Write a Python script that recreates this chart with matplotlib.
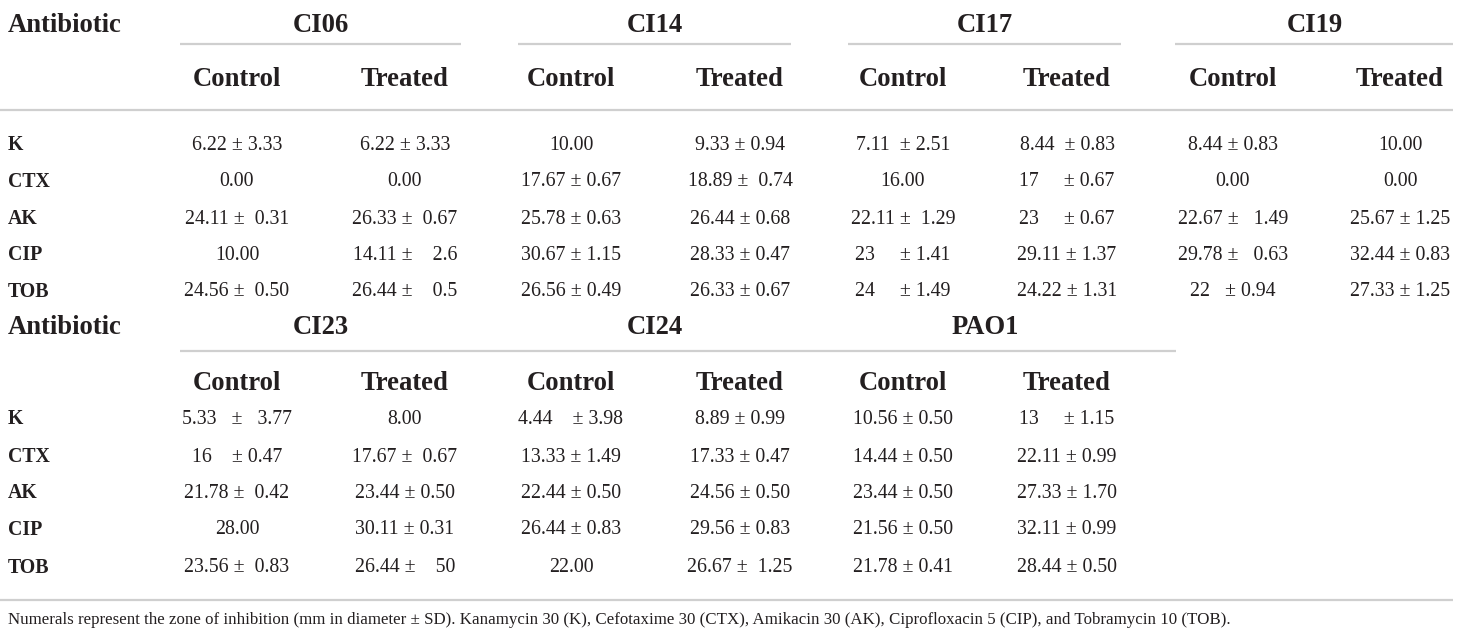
import matplotlib
matplotlib.use("Agg")
import matplotlib.pyplot as plt

plt.rcParams['font.family'] = ['Liberation Serif', 'DejaVu Serif']

antibiotics = ["K", "CTX", "AK", "CIP", "TOB"]
conditions = ["Control", "Treated"]

groups_top = ["CI06", "CI14", "CI17", "CI19"]
groups_bottom = ["CI23", "CI24", "PAO1"]

CI06_control = ["6.22 ± 3.33", "0.00", "24.11 ±  0.31", "10.00", "24.56 ±  0.50"]
CI06_treated = ["6.22 ± 3.33", "0.00", "26.33 ±  0.67", "14.11 ±    2.6", "26.44 ±    0.5"]
CI14_control = ["10.00", "17.67 ± 0.67", "25.78 ± 0.63", "30.67 ± 1.15", "26.56 ± 0.49"]
CI14_treated = ["9.33 ± 0.94", "18.89 ±  0.74", "26.44 ± 0.68", "28.33 ± 0.47", "26.33 ± 0.67"]
CI17_control = ["7.11  ± 2.51", "16.00", "22.11 ±  1.29", "23     ± 1.41", "24     ± 1.49"]
CI17_treated = ["8.44  ± 0.83", "17     ± 0.67", "23     ± 0.67", "29.11 ± 1.37", "24.22 ± 1.31"]
CI19_control = ["8.44 ± 0.83", "0.00", "22.67 ±   1.49", "29.78 ±   0.63", "22   ± 0.94"]
CI19_treated = ["10.00", "0.00", "25.67 ± 1.25", "32.44 ± 0.83", "27.33 ± 1.25"]

CI23_control = ["5.33   ±   3.77", "16    ± 0.47", "21.78 ±  0.42", "28.00", "23.56 ±  0.83"]
CI23_treated = ["8.00", "17.67 ±  0.67", "23.44 ± 0.50", "30.11 ± 0.31", "26.44 ±    50"]
CI24_control = ["4.44    ± 3.98", "13.33 ± 1.49", "22.44 ± 0.50", "26.44 ± 0.83", "22.00"]
CI24_treated = ["8.89 ± 0.99", "17.33 ± 0.47", "24.56 ± 0.50", "29.56 ± 0.83", "26.67 ±  1.25"]
PAO1_control = ["10.56 ± 0.50", "14.44 ± 0.50", "23.44 ± 0.50", "21.56 ± 0.50", "21.78 ± 0.41"]
PAO1_treated = ["13     ± 1.15", "22.11 ± 0.99", "27.33 ± 1.70", "32.11 ± 0.99", "28.44 ± 0.50"]

top_data = [(CI06_control, CI06_treated), (CI14_control, CI14_treated),
            (CI17_control, CI17_treated), (CI19_control, CI19_treated)]
bottom_data = [(CI23_control, CI23_treated), (CI24_control, CI24_treated),
               (PAO1_control, PAO1_treated)]

caption = ("Numerals represent the zone of inhibition (mm in diameter ± SD). Kanamycin 30 (K), "
           "Cefotaxime 30 (CTX), Amikacin 30 (AK), Ciprofloxacin 5 (CIP), and Tobramycin 10 (TOB).")

# layout (pixels)
W, H = 1460, 641
fig = plt.figure(figsize=(W / 100, H / 100), dpi=100)
ax = fig.add_axes([0, 0, 1, 1])
ax.set_xlim(0, W)
ax.set_ylim(H, 0)
ax.axis('off')

TXT = '#231f20'
LINE = '#cfcfcf'
LW = 1.6
HDR = 19.2
DAT = 14.3

col_centers = [(237, 405), (571, 740), (903, 1067), (1233, 1400)]
group_centers = [321, 655, 985, 1315]
group_spans = [(180, 461), (518, 791), (848, 1121), (1175, 1453)]
label_x = 8


def block(y_title, y_sub, y_rows, groups, data, y_groupline, groupline_spans):
    ax.text(label_x, y_title, "Antibiotic", fontsize=HDR, fontweight='bold',
            color=TXT, ha='left', va='center')
    for gi, g in enumerate(groups):
        ax.text(group_centers[gi], y_title, g, fontsize=HDR, fontweight='bold',
                color=TXT, ha='center', va='center')
        for ci, cond in enumerate(conditions):
            ax.text(col_centers[gi][ci], y_sub, cond, fontsize=HDR, fontweight='bold',
                    color=TXT, ha='center', va='center')
            for ri, val in enumerate(data[gi][ci]):
                ax.text(col_centers[gi][ci], y_rows[ri], val, fontsize=DAT,
                        color=TXT, ha='center', va='center')
    for ri, ab in enumerate(antibiotics):
        ax.text(label_x, y_rows[ri], ab, fontsize=DAT, fontweight='bold',
                color=TXT, ha='left', va='center')
    for (x0, x1) in groupline_spans:
        ax.plot([x0, x1], [y_groupline, y_groupline], color=LINE, lw=LW,
                solid_capstyle='butt')


block(25, 79, [145, 182, 219, 255, 292], groups_top, top_data, 44, group_spans)
ax.plot([0, 1453], [110, 110], color=LINE, lw=LW, solid_capstyle='butt')

block(328, 383, [419, 457, 493, 530, 568], groups_bottom, bottom_data, 351,
      [(180, 1176)])

ax.plot([0, 1453], [600, 600], color=LINE, lw=LW, solid_capstyle='butt')
ax.text(label_x, 620, caption, fontsize=12.15, color=TXT, ha='left', va='center')

fig.savefig("out.png", dpi=100)
